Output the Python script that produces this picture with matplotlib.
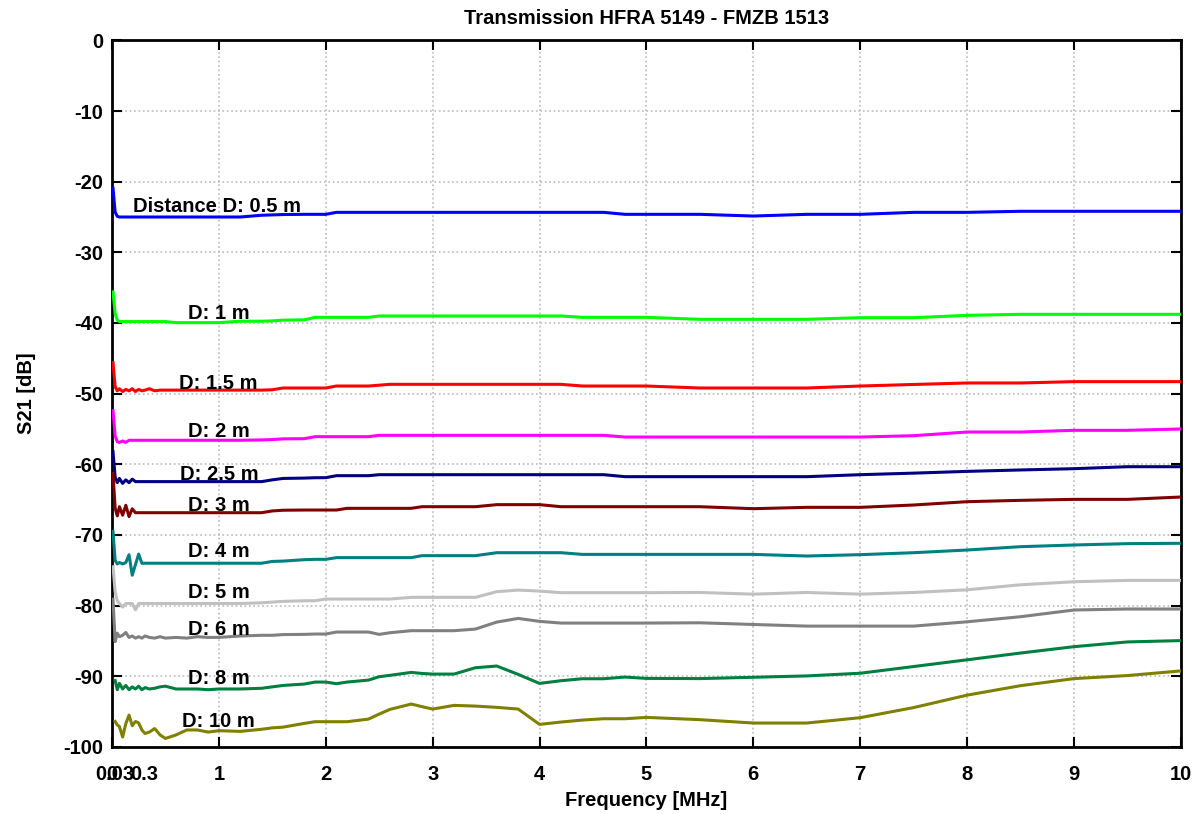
import numpy as np
import matplotlib
matplotlib.use("Agg")
import matplotlib.pyplot as plt

plt.rcParams['font.family'] = ['Liberation Sans', 'DejaVu Sans']
plt.rcParams['font.weight'] = 'bold'
plt.rcParams['axes.unicode_minus'] = False

nan = np.nan

# frequency points [MHz]
freq = [0.01, 0.03, 0.05, 0.07, 0.1, 0.13, 0.16, 0.19, 0.22, 0.25,
        0.28, 0.31, 0.35, 0.4, 0.45, 0.5, 0.6, 0.7, 0.8, 0.9,
        1.0,
        1.2, 1.4, 1.5, 1.6, 1.8, 1.9, 2.0, 2.1, 2.2, 2.4,
        2.5, 2.6, 2.8, 2.9, 3.0, 3.2, 3.4, 3.6, 3.8, 4.0,
        4.2, 4.4, 4.6, 4.8, 5.0, 5.5, 6.0, 6.5, 7.0, 7.5,
        8.0, 8.5, 9.0, 9.5, 10.0]

# S21 [dB] per distance
d05 = [-20.9, -24.3, -24.9, -25.0, -25.0, -25.0, -25.0, -25.0, -25.0, -25.0,
       -25.0, -25.0, -25.0, -25.0, -25.0, -25.0, -25.0, -25.0, -25.0, -25.0,
       -25.0,
       -25.0, -24.75, -24.7, -24.65, -24.62, -24.62, -24.62, -24.34, -24.34, -24.34,
       -24.34, -24.34, -24.34, -24.34, -24.34, -24.34, -24.34, -24.34, -24.34, -24.34,
       -24.34, -24.34, -24.34, -24.62, -24.62, -24.62, -24.86, -24.62, -24.62, -24.34,
       -24.34, -24.19, -24.19, -24.19, -24.19]
d1 = [-35.6, -38.7, -39.6, -39.8, -39.8, -39.8, -39.8, -39.8, -39.8, -39.8,
      -39.8, -39.8, -39.8, -39.8, -39.8, -39.8, -39.95, -39.95, -39.95, -39.95,
      -39.95,
      -39.75, -39.75, -39.7, -39.6, -39.55, -39.2, -39.2, -39.2, -39.2, -39.2,
      -39.01, -39.01, -39.01, -39.01, -39.01, -39.01, -39.01, -39.01, -39.01, -39.01,
      -39.01, -39.2, -39.2, -39.2, -39.2, -39.48, -39.48, -39.48, -39.25, -39.25,
      -38.92, -38.77, -38.77, -38.77, -38.77]
d15 = [-45.6, -49.0, -49.6, -49.3, -49.7, -49.4, -49.6, -49.3, -49.7, -49.4,
       -49.6, -49.5, -49.3, -49.6, -49.5, -49.5, -49.5, -49.5, -49.5, -49.5,
       -49.5,
       -49.5, -49.5, -49.45, -49.2, -49.2, -49.2, -49.2, -48.92, -48.92, -48.92,
       -48.8, -48.68, -48.68, -48.68, -48.68, -48.68, -48.68, -48.68, -48.68, -48.68,
       -48.68, -48.92, -48.92, -48.92, -48.92, -49.2, -49.2, -49.2, -48.92, -48.7,
       -48.49, -48.49, -48.3, -48.3, -48.3]
d2 = [-52.4, -56.0, -56.8, -56.9, -56.7, -56.9, -56.6, -56.6, -56.6, -56.6,
      -56.6, -56.6, -56.6, -56.6, -56.6, -56.6, -56.6, -56.6, -56.6, -56.6,
      -56.6,
      -56.6, -56.55, -56.5, -56.4, -56.37, -56.09, -56.09, -56.09, -56.09, -56.09,
      -55.9, -55.9, -55.9, -55.9, -55.9, -55.9, -55.9, -55.9, -55.9, -55.9,
      -55.9, -55.9, -55.9, -56.14, -56.14, -56.14, -56.14, -56.14, -56.14, -55.95,
      -55.43, -55.43, -55.19, -55.19, -55.0]
d25 = [-58.2, -61.8, -62.6, -62.0, -62.7, -62.2, -62.6, -62.1, -62.45, -62.45,
       -62.45, -62.45, -62.45, -62.45, -62.45, -62.45, -62.45, -62.45, -62.45, -62.45,
       -62.45,
       -62.45, -62.45, -62.2, -62.0, -61.95, -61.9, -61.89, -61.61, -61.61, -61.61,
       -61.47, -61.47, -61.47, -61.47, -61.47, -61.47, -61.47, -61.47, -61.47, -61.47,
       -61.47, -61.47, -61.47, -61.75, -61.75, -61.75, -61.75, -61.75, -61.47, -61.25,
       -61.0, -60.8, -60.62, -60.34, -60.34]
d3 = [-61.3, -66.2, -67.3, -66.0, -67.2, -65.8, -67.4, -66.3, -66.85, -66.85,
      -66.85, -66.85, -66.85, -66.85, -66.85, -66.85, -66.85, -66.85, -66.85, -66.85,
      -66.85,
      -66.85, -66.85, -66.6, -66.5, -66.47, -66.47, -66.47, -66.47, -66.23, -66.23,
      -66.23, -66.23, -66.23, -66.0, -66.0, -66.0, -66.0, -65.71, -65.71, -65.71,
      -66.0, -66.0, -66.0, -66.0, -66.0, -66.0, -66.28, -66.09, -66.09, -65.76,
      -65.29, -65.1, -64.96, -64.96, -64.63]
d4 = [-69.5, -73.6, -74.1, -73.9, -74.1, -73.9, -72.8, -75.7, -74.2, -72.7,
      -74.0, -74.0, -74.0, -74.0, -74.0, -74.0, -74.0, -74.0, -74.0, -74.0,
      -74.0,
      -74.0, -74.0, -73.75, -73.7, -73.5, -73.45, -73.45, -73.21, -73.21, -73.21,
      -73.21, -73.21, -73.21, -72.93, -72.93, -72.93, -72.93, -72.51, -72.51, -72.51,
      -72.51, -72.75, -72.75, -72.75, -72.75, -72.75, -72.75, -72.98, -72.79, -72.51,
      -72.13, -71.66, -71.42, -71.23, -71.18]
d5 = [-74.5, -78.0, -79.3, -79.7, -80.2, -79.7, -79.7, -79.7, -80.6, -79.7,
      -79.7, -79.7, -79.7, -79.7, -79.7, -79.7, -79.7, -79.7, -79.7, -79.7,
      -79.7,
      -79.7, -79.6, -79.5, -79.4, -79.31, -79.31, -79.07, -79.07, -79.07, -79.07,
      -79.07, -79.07, -78.83, -78.83, -78.83, -78.83, -78.83, -78.03, -77.8, -77.94,
      -78.17, -78.17, -78.17, -78.17, -78.17, -78.14, -78.38, -78.14, -78.38, -78.14,
      -77.76, -77.05, -76.62, -76.43, -76.43]
d6 = [-79.1, -85.1, -83.9, -84.4, -84.2, -83.8, -84.5, -84.3, -84.6, -84.4,
      -84.6, -84.3, -84.5, -84.6, -84.4, -84.6, -84.5, -84.6, -84.4, -84.5,
      -84.5,
      -84.3, -84.2, -84.2, -84.1, -84.07, -84.02, -84.02, -83.74, -83.74, -83.74,
      -84.07, -83.84, -83.55, -83.55, -83.55, -83.55, -83.32, -82.33, -81.81, -82.23,
      -82.47, -82.47, -82.47, -82.47, -82.47, -82.43, -82.67, -82.9, -82.9, -82.9,
      -82.29, -81.57, -80.62, -80.48, -80.48]
d8 = [nan, -90.6, -91.9, -91.0, -91.8, -91.3, -91.9, -91.5, -91.8, -91.4,
      -91.9, -91.6, -91.8, -91.7, -91.5, -91.4, -91.8, -91.8, -91.8, -91.9,
      -91.8,
      -91.8, -91.7, -91.5, -91.3, -91.1, -90.82, -90.82, -91.05, -90.82, -90.54,
      -90.06, -89.87, -89.45, -89.6, -89.69, -89.69, -88.79, -88.55, -89.73, -91.01,
      -90.63, -90.35, -90.35, -90.11, -90.3, -90.33, -90.14, -89.95, -89.57, -88.62,
      -87.67, -86.71, -85.81, -85.14, -84.95]
d10 = [nan, -96.4, -96.9, -97.1, -98.6, -96.7, -95.5, -97.0, -96.4, -96.6,
       -97.6, -98.1, -97.9, -97.4, -98.3, -98.8, -98.3, -97.6, -97.6, -97.9,
       -97.7,
       -97.8, -97.5, -97.3, -97.2, -96.67, -96.43, -96.43, -96.43, -96.43, -96.06,
       -95.35, -94.69, -93.93, -94.3, -94.64, -94.12, -94.22, -94.4, -94.64, -96.81,
       -96.48, -96.2, -96.01, -96.01, -95.82, -96.14, -96.62, -96.62, -95.86, -94.43,
       -92.67, -91.33, -90.33, -89.9, -89.24]

series = [d05, d1, d15, d2, d25, d3, d4, d5, d6, d8, d10]
colors = ['#0000ff', '#00ff00', '#ff0000', '#ff00ff', '#000080', '#800000',
          '#008080', '#c0c0c0', '#808080', '#008040', '#808000']
labels = ['Distance D: 0.5 m', 'D: 1 m', 'D: 1.5 m', 'D: 2 m', 'D: 2.5 m', 'D: 3 m',
          'D: 4 m', 'D: 5 m', 'D: 6 m', 'D: 8 m', 'D: 10 m']
label_x = [0.2, 0.71, 0.63, 0.71, 0.64, 0.71, 0.71, 0.71, 0.71, 0.71, 0.66]
label_y = [-23.3, -38.4, -48.35, -55.1, -61.2, -65.6, -72.1, -77.9, -83.2, -90.05, -96.2]

xticks = [0, 1, 2, 3, 4, 5, 6, 7, 8, 9, 10]
xticks_low = [0.03, 0.3]
xticklabels_low = ['0.03', '0.3']

fig = plt.figure(figsize=(12.01, 8.14), dpi=100)
ax = fig.add_axes([0.0932, 0.0824, 0.8901, 0.868])

for vals, c in zip(series, colors):
    ax.plot(freq, vals, color=c, lw=2.2, zorder=3)

for t, x, y in zip(labels, label_x, label_y):
    ax.text(x, y - 1.0, t, fontsize=14.5, fontweight='bold', ha='left',
            va='baseline', zorder=5)

ax.set_xlim(0, 10)
ax.set_ylim(-100, 0)
ax.set_xticks(xticks)
ax.set_xticks(xticks_low, minor=True)
ax.set_xticklabels(xticklabels_low, minor=True)
ax.set_yticks(np.arange(-100, 1, 10))
ax.tick_params(direction='in', length=7, width=1.5, top=True, right=True,
               labelsize=14.5)
ax.tick_params(axis='x', which='both', pad=13)
ax.tick_params(axis='x', which='minor', length=0, labelsize=14.5)
ax.tick_params(axis='y', pad=6)
for lab in ax.get_xticklabels(which='both') + ax.get_yticklabels():
    lab.set_fontweight('bold')

ax.grid(True, which='major', color='#bbbbbb', linestyle=':', linewidth=1.2)
for s in ax.spines.values():
    s.set_linewidth(2)

ax.set_title('Transmission HFRA 5149 - FMZB 1513', fontsize=14.5,
             fontweight='bold', pad=12)
ax.set_xlabel('Frequency [MHz]', fontsize=14.5, fontweight='bold', labelpad=5)
ax.set_ylabel('S21 [dB]', fontsize=14.5, fontweight='bold', labelpad=20)

fig.savefig('out.png', dpi=100)
